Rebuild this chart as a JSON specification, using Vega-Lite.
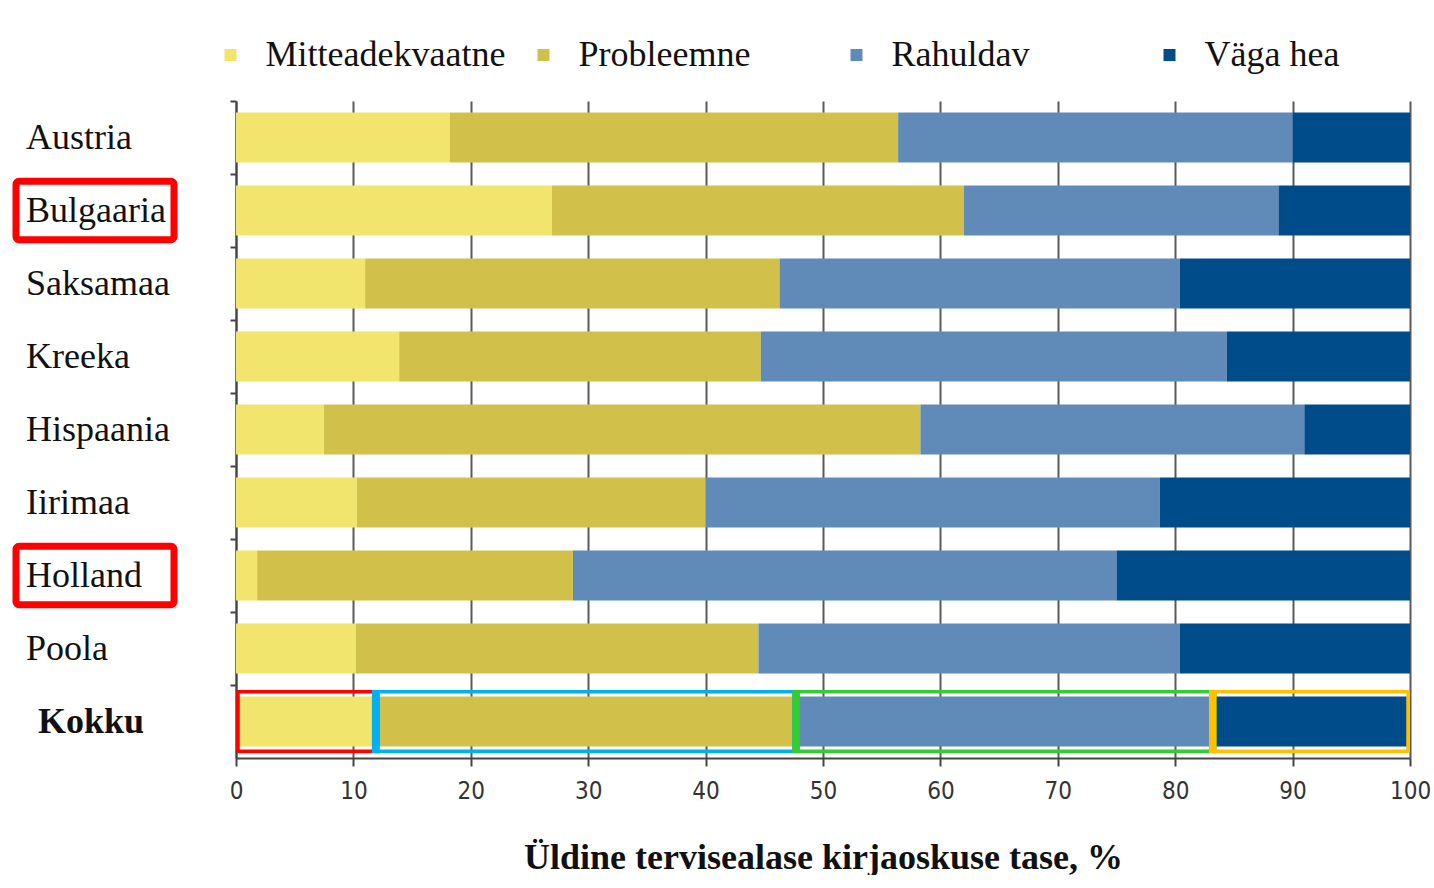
{
  "$schema": "https://vega.github.io/schema/vega-lite/v6.json",
  "background": "white",
  "padding": {"left": 12, "top": 37, "right": 0, "bottom": 0},
  "spacing": 0,
  "config": {"view": {"stroke": null}, "concat": {"spacing": 0}},
  "datasets": {
    "countries": [
      {"country": "Austria", "highlighted": false},
      {"country": "Bulgaaria", "highlighted": true},
      {"country": "Saksamaa", "highlighted": false},
      {"country": "Kreeka", "highlighted": false},
      {"country": "Hispaania", "highlighted": false},
      {"country": "Iirimaa", "highlighted": false},
      {"country": "Holland", "highlighted": true},
      {"country": "Poola", "highlighted": false},
      {"country": "Kokku", "highlighted": false}
    ],
    "bars": [
      {"country": "Austria", "level": "Mitteadekvaatne", "k": 1, "value": 18.2},
      {"country": "Austria", "level": "Probleemne", "k": 2, "value": 38.2},
      {"country": "Austria", "level": "Rahuldav", "k": 3, "value": 33.6},
      {"country": "Austria", "level": "Väga hea", "k": 4, "value": 10.0},
      {"country": "Bulgaaria", "level": "Mitteadekvaatne", "k": 1, "value": 26.9},
      {"country": "Bulgaaria", "level": "Probleemne", "k": 2, "value": 35.1},
      {"country": "Bulgaaria", "level": "Rahuldav", "k": 3, "value": 26.8},
      {"country": "Bulgaaria", "level": "Väga hea", "k": 4, "value": 11.2},
      {"country": "Saksamaa", "level": "Mitteadekvaatne", "k": 1, "value": 11.0},
      {"country": "Saksamaa", "level": "Probleemne", "k": 2, "value": 35.3},
      {"country": "Saksamaa", "level": "Rahuldav", "k": 3, "value": 34.1},
      {"country": "Saksamaa", "level": "Väga hea", "k": 4, "value": 19.6},
      {"country": "Kreeka", "level": "Mitteadekvaatne", "k": 1, "value": 13.9},
      {"country": "Kreeka", "level": "Probleemne", "k": 2, "value": 30.8},
      {"country": "Kreeka", "level": "Rahuldav", "k": 3, "value": 39.7},
      {"country": "Kreeka", "level": "Väga hea", "k": 4, "value": 15.6},
      {"country": "Hispaania", "level": "Mitteadekvaatne", "k": 1, "value": 7.5},
      {"country": "Hispaania", "level": "Probleemne", "k": 2, "value": 50.8},
      {"country": "Hispaania", "level": "Rahuldav", "k": 3, "value": 32.7},
      {"country": "Hispaania", "level": "Väga hea", "k": 4, "value": 9.0},
      {"country": "Iirimaa", "level": "Mitteadekvaatne", "k": 1, "value": 10.3},
      {"country": "Iirimaa", "level": "Probleemne", "k": 2, "value": 29.7},
      {"country": "Iirimaa", "level": "Rahuldav", "k": 3, "value": 38.7},
      {"country": "Iirimaa", "level": "Väga hea", "k": 4, "value": 21.3},
      {"country": "Holland", "level": "Mitteadekvaatne", "k": 1, "value": 1.8},
      {"country": "Holland", "level": "Probleemne", "k": 2, "value": 26.9},
      {"country": "Holland", "level": "Rahuldav", "k": 3, "value": 46.3},
      {"country": "Holland", "level": "Väga hea", "k": 4, "value": 25.0},
      {"country": "Poola", "level": "Mitteadekvaatne", "k": 1, "value": 10.2},
      {"country": "Poola", "level": "Probleemne", "k": 2, "value": 34.3},
      {"country": "Poola", "level": "Rahuldav", "k": 3, "value": 35.9},
      {"country": "Poola", "level": "Väga hea", "k": 4, "value": 19.6},
      {"country": "Kokku", "level": "Mitteadekvaatne", "k": 1, "value": 11.9},
      {"country": "Kokku", "level": "Probleemne", "k": 2, "value": 35.8},
      {"country": "Kokku", "level": "Rahuldav", "k": 3, "value": 35.5},
      {"country": "Kokku", "level": "Väga hea", "k": 4, "value": 16.8}
    ]
  },
  "resolve": {"scale": {"y": "independent", "x": "independent"}},
  "hconcat": [
    {
      "width": 158,
      "height": 657,
      "data": {"name": "countries"},
      "encoding": {
        "y": {
          "field": "country",
          "type": "nominal",
          "scale": {"domain": ["Austria", "Bulgaaria", "Saksamaa", "Kreeka", "Hispaania", "Iirimaa", "Holland", "Poola", "Kokku"], "paddingInner": 0, "paddingOuter": 0},
          "axis": null
        }
      },
      "layer": [
        {
          "transform": [{"filter": "datum.highlighted"}],
          "mark": {"type": "rect", "fill": "transparent", "stroke": "#ff0000", "strokeWidth": 7, "cornerRadius": 3, "height": {"band": 0.8}}
        },
        {
          "transform": [{"filter": "datum.country !== 'Kokku'"}],
          "mark": {"type": "text", "align": "left", "baseline": "middle", "dx": 10, "font": "Liberation Serif", "fontSize": 36, "color": "#111111"},
          "encoding": {
            "x": {"datum": 0, "type": "quantitative", "scale": {"domain": [0, 1]}, "axis": null},
            "text": {"field": "country"}
          }
        },
        {
          "transform": [{"filter": "datum.country === 'Kokku'"}],
          "mark": {"type": "text", "align": "left", "baseline": "middle", "dx": 22, "font": "Liberation Serif", "fontSize": 36, "fontWeight": "bold", "color": "#111111"},
          "encoding": {
            "x": {"datum": 0, "type": "quantitative", "scale": {"domain": [0, 1]}, "axis": null},
            "text": {"field": "country"}
          }
        }
      ]
    },
    {
      "width": 1174,
      "height": 657,
      "data": {"name": "bars"},
      "encoding": {
        "y": {
          "field": "country",
          "type": "nominal",
          "scale": {"domain": ["Austria", "Bulgaaria", "Saksamaa", "Kreeka", "Hispaania", "Iirimaa", "Holland", "Poola", "Kokku"], "paddingInner": 0, "paddingOuter": 0},
          "axis": {"labels": false, "ticks": true, "bandPosition": 0, "tickSize": 6, "tickWidth": 2, "tickColor": "#444444", "domainColor": "#444444", "domainWidth": 2, "title": null, "grid": false, "minExtent": 58, "maxExtent": 58}
        },
        "x": {
          "field": "value",
          "type": "quantitative",
          "stack": "zero",
          "scale": {"domain": [0, 100], "nice": false},
          "axis": {
            "values": [0, 10, 20, 30, 40, 50, 60, 70, 80, 90, 100],
            "grid": true, "gridColor": "#5a5a5a", "gridWidth": 2,
            "domainColor": "#444444", "domainWidth": 2,
            "tickColor": "#444444", "tickSize": 8, "tickWidth": 2,
            "labelFont": "Liberation Sans Narrow, DejaVu Sans Condensed, sans-serif",
            "labelFontSize": 24, "labelColor": "#333333", "labelPadding": 13, "labelFlush": false,
            "title": "Üldine tervisealase kirjaoskuse tase, %",
            "titleFont": "Liberation Serif", "titleFontSize": 36, "titleFontWeight": "bold", "titleColor": "#111111", "titlePadding": 37
          }
        },
        "order": {"field": "k", "type": "quantitative"}
      },
      "layer": [
        {
          "mark": {"type": "bar", "height": {"band": 0.685}},
          "encoding": {
            "color": {
              "field": "level",
              "type": "nominal",
              "scale": {"domain": ["Mitteadekvaatne", "Probleemne", "Rahuldav", "Väga hea"], "range": ["#f2e56e", "#d1c14a", "#608bb8", "#004c8a"]},
              "legend": {
                "title": null, "orient": "none", "legendX": 196.5, "legendY": -64,
                "direction": "horizontal", "columns": 4, "gridAlign": "all",
                "symbolType": "square", "symbolSize": 144, "symbolStrokeWidth": 0,
                "labelFont": "Liberation Serif", "labelFontSize": 36, "labelColor": "#111111",
                "labelOffset": 17, "columnPadding": 20, "labelLimit": 400
              }
            }
          }
        },
        {
          "transform": [{"filter": "datum.country === 'Kokku'"}],
          "mark": {"type": "bar", "height": {"band": 0.87}, "fill": "transparent", "strokeWidth": 7.5, "cornerRadius": 3},
          "encoding": {
            "stroke": {
              "field": "level",
              "type": "nominal",
              "scale": {"domain": ["Mitteadekvaatne", "Probleemne", "Rahuldav", "Väga hea"], "range": ["#ff0000", "#00b0f0", "#33cc33", "#ffc000"]},
              "legend": null
            }
          }
        }
      ]
    }
  ]
}
